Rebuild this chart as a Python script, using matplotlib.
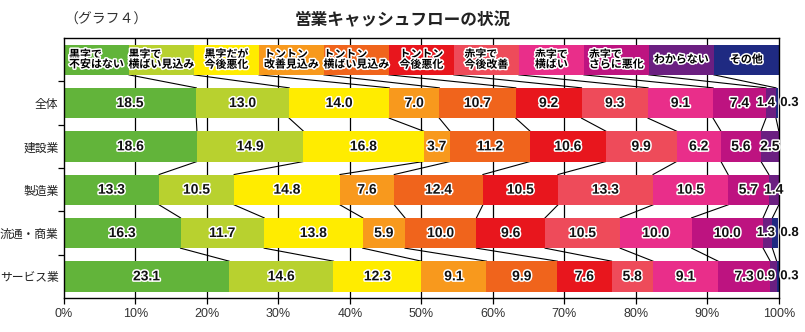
import numpy as np
import matplotlib.pyplot as plt
import matplotlib.patheffects as pe

plt.rcParams['font.family'] = ['Noto Sans CJK JP', 'DejaVu Sans']

categories = ['全体', '建設業', '製造業', '流通・商業', 'サービス業']
labels = ['黒字で\n不安はない', '黒字で\n横ばい見込み', '黒字だが\n今後悪化',
          'トントン\n改善見込み', 'トントン\n横ばい見込み', 'トントン\n今後悪化',
          '赤字で\n今後改善', '赤字で\n横ばい', '赤字で\nさらに悪化',
          'わからない', 'その他']
colors = ['#62b43a', '#b8d12f', '#ffec00', '#f8991d', '#f0641c', '#e8161d',
          '#ee4b5a', '#e92e8a', '#bd1380', '#6b1f81', '#1f2a82']

values = np.array([
    [18.5, 13.0, 14.0, 7.0, 10.7, 9.2, 9.3, 9.1, 7.4, 1.4, 0.3],
    [18.6, 14.9, 16.8, 3.7, 11.2, 10.6, 9.9, 6.2, 5.6, 2.5, 0.0],
    [13.3, 10.5, 14.8, 7.6, 12.4, 10.5, 13.3, 10.5, 5.7, 1.4, 0.0],
    [16.3, 11.7, 13.8, 5.9, 10.0, 9.6, 10.5, 10.0, 10.0, 1.3, 0.8],
    [23.1, 14.6, 12.3, 9.1, 9.9, 7.6, 5.8, 9.1, 7.3, 0.9, 0.3],
])

fig = plt.figure(figsize=(8.05, 3.32), dpi=100)
ax = fig.add_axes([0.0795, 0.1024, 0.888, 0.7831])

h = 0.7
ypos = np.arange(len(categories))
stroke = [pe.withStroke(linewidth=2.2, foreground='white')]
out_x = 101.5  # where the tiny "その他" values sit, just past the axis

# gridlines behind everything
for x in range(10, 100, 10):
    ax.axvline(x, color='black', lw=0.9, zorder=0)

# header legend row
n = len(labels)
hw = 100 / n
for k, (lab, c) in enumerate(zip(labels, colors)):
    ax.barh(-1, hw, left=k * hw, height=h, color=c, zorder=2)
    ax.text(k * hw + hw / 2, -1, lab, ha='center', va='center', multialignment='left',
            fontsize=7.9, fontweight='bold', linespacing=0.95, color='black',
            path_effects=stroke, zorder=4)

# bars
cum = np.zeros(len(categories))
for j in range(n):
    ax.barh(ypos, values[:, j], left=cum, height=h, color=colors[j], zorder=2)
    for i in range(len(categories)):
        v = values[i, j]
        if v <= 0:
            continue
        fs = 10
        if j == n - 1:
            x = out_x
            fs = 9.5
        else:
            x = cum[i] + v / 2
            if j == n - 2 and values[i, n - 1] > 0:
                x = min(x, out_x - 3.3)
                fs = 9.5
        ax.text(x, ypos[i], f'{v:.1f}', ha='center', va='center',
                fontsize=fs, fontweight='bold', family='Liberation Sans',
                color='#111111', path_effects=stroke, zorder=5, clip_on=False)
    cum += values[:, j]

# connector lines
bounds = np.cumsum(values, axis=1)[:, :-1]
for k in range(n - 1):
    ax.plot([(k + 1) * hw, bounds[0, k]], [-1 + h / 2, -h / 2],
            color='black', lw=0.8, zorder=1)
for i in range(len(categories) - 1):
    for k in range(n - 1):
        ax.plot([bounds[i, k], bounds[i + 1, k]], [i + h / 2, i + 1 - h / 2],
                color='black', lw=0.8, zorder=1)

ax.set_xlim(0, 100)
ax.set_ylim(4.5, -1.5)
ax.set_xticks(range(0, 101, 10))
ax.set_xticklabels([f'{x}%' for x in range(0, 101, 10)], family='Liberation Sans',
                   fontsize=9, color='#333333')
ax.set_yticks(ypos)
ax.set_yticklabels(categories, fontsize=8.5, color='#222222')
ax.tick_params(axis='y', length=0, pad=4)
ax.set_yticks(np.arange(-0.5, 4.5, 1), minor=True)
ax.tick_params(axis='y', which='minor', length=4, width=0.9)
ax.tick_params(axis='x', length=4, width=0.9)
for s in ax.spines.values():
    s.set_linewidth(1.0)

fig.text(0.08, 0.94, '（グラフ４）', fontsize=10, color='#333333', va='center')
fig.text(0.5, 0.94, '営業キャッシュフローの状況', fontsize=12, fontweight='bold',
         ha='center', va='center', color='#222222')

fig.savefig('out.png', dpi=100)
